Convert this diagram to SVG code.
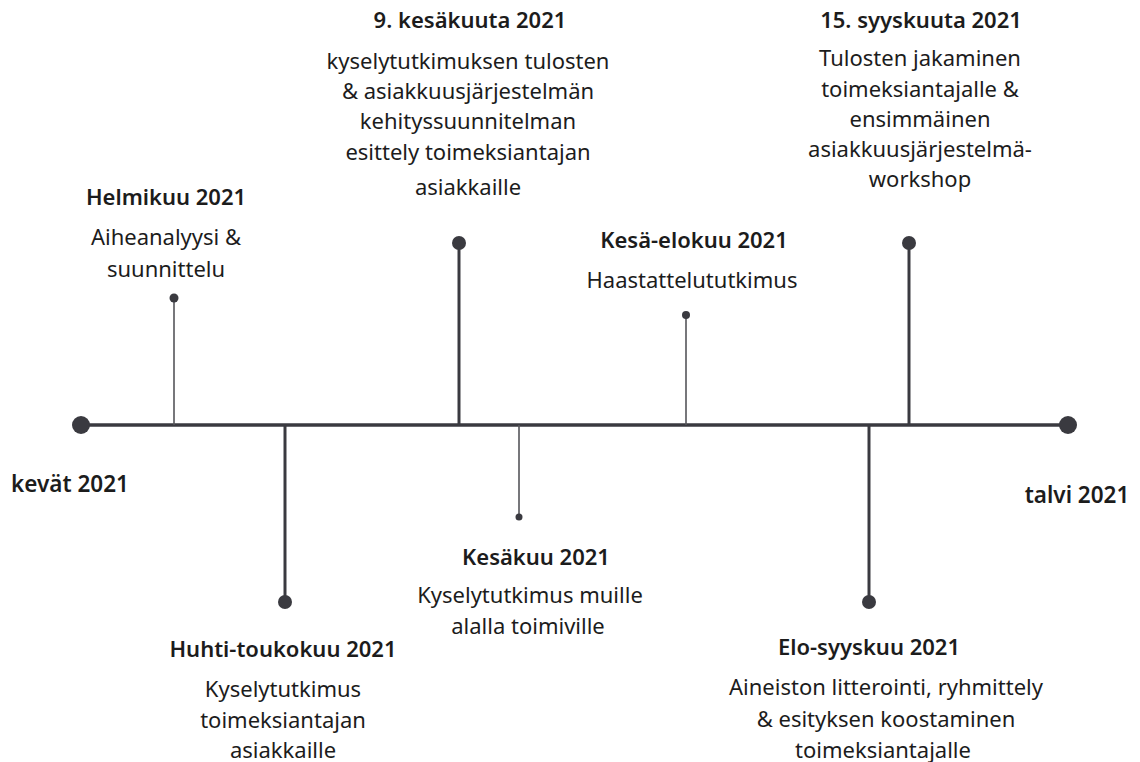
<svg xmlns="http://www.w3.org/2000/svg" width="1140" height="762" viewBox="0 0 1140 762">
<style>
text{font-family:"Noto Sans","Open Sans","Liberation Sans",sans-serif;fill:#1c1c1c;text-anchor:middle}
.t{font-size:22px;font-weight:600}
.b{font-size:22px;font-weight:400}
.end{font-size:22.5px;font-weight:600}
.axis{stroke:#3a3a40;stroke-width:3.5;fill:none}
.thick{stroke:#3a3a40;stroke-width:3;fill:none}
.thin{stroke:#55555a;stroke-width:1.6;fill:none}
.dot{fill:#3a3a40}
</style>
<rect width="1140" height="762" fill="#ffffff"/>
<g id="connectors">
<line class="axis" x1="80" y1="425" x2="1068" y2="425"/>
<line class="thin" x1="174" y1="298" x2="174" y2="425"/>
<line class="thick" x1="285" y1="425" x2="285" y2="602"/>
<line class="thick" x1="459" y1="243" x2="459" y2="425"/>
<line class="thin" x1="519" y1="425" x2="519" y2="517"/>
<line class="thin" x1="686" y1="315" x2="686" y2="425"/>
<line class="thick" x1="869" y1="425" x2="869" y2="602"/>
<line class="thick" x1="909" y1="243" x2="909" y2="425"/>
</g>
<g id="start">
<circle class="dot" cx="81" cy="425" r="9"/>
<text class="end" x="70" y="492">kevät 2021</text>
</g>
<g id="end">
<circle class="dot" cx="1068" cy="425" r="9"/>
<text class="end" x="1077" y="503">talvi 2021</text>
</g>
<g id="helmikuu">
<circle class="dot" cx="174" cy="298" r="4.5"/>
<text class="t" x="166" y="205">Helmikuu 2021</text>
<text class="b" x="166" y="245">Aiheanalyysi &amp;</text>
<text class="b" x="166" y="277">suunnittelu</text>
</g>
<g id="huhti-toukokuu">
<circle class="dot" cx="285" cy="602" r="7"/>
<text class="t" x="283" y="657">Huhti-toukokuu 2021</text>
<text class="b" x="283" y="697">Kyselytutkimus</text>
<text class="b" x="283" y="728">toimeksiantajan</text>
<text class="b" x="283" y="758">asiakkaille</text>
</g>
<g id="kesakuuta9">
<circle class="dot" cx="459" cy="243" r="7"/>
<text class="t" x="470" y="28">9. kesäkuuta 2021</text>
<text class="b" x="468" y="69">kyselytutkimuksen tulosten</text>
<text class="b" x="468" y="99">&amp; asiakkuusjärjestelmän</text>
<text class="b" x="468" y="129">kehityssuunnitelman</text>
<text class="b" x="468" y="160">esittely toimeksiantajan</text>
<text class="b" x="468" y="195">asiakkaille</text>
</g>
<g id="kesakuu">
<circle class="dot" cx="519" cy="517" r="3.5"/>
<text class="t" x="536" y="565">Kesäkuu 2021</text>
<text class="b" x="530" y="603">Kyselytutkimus muille</text>
<text class="b" x="528" y="634">alalla toimiville</text>
</g>
<g id="kesa-elokuu">
<circle class="dot" cx="686" cy="315" r="4"/>
<text class="t" x="694" y="248">Kesä-elokuu 2021</text>
<text class="b" x="692" y="288">Haastattelututkimus</text>
</g>
<g id="elo-syyskuu">
<circle class="dot" cx="869" cy="602" r="7"/>
<text class="t" x="869" y="655">Elo-syyskuu 2021</text>
<text class="b" x="886" y="695">Aineiston litterointi, ryhmittely</text>
<text class="b" x="886" y="727">&amp; esityksen koostaminen</text>
<text class="b" x="883" y="758">toimeksiantajalle</text>
</g>
<g id="syyskuuta15">
<circle class="dot" cx="909" cy="243" r="7"/>
<text class="t" x="921" y="28">15. syyskuuta 2021</text>
<text class="b" x="920" y="66">Tulosten jakaminen</text>
<text class="b" x="920" y="97">toimeksiantajalle &amp;</text>
<text class="b" x="920" y="127">ensimmäinen</text>
<text class="b" x="920" y="157">asiakkuusjärjestelmä-</text>
<text class="b" x="920" y="187">workshop</text>
</g>
</svg>
